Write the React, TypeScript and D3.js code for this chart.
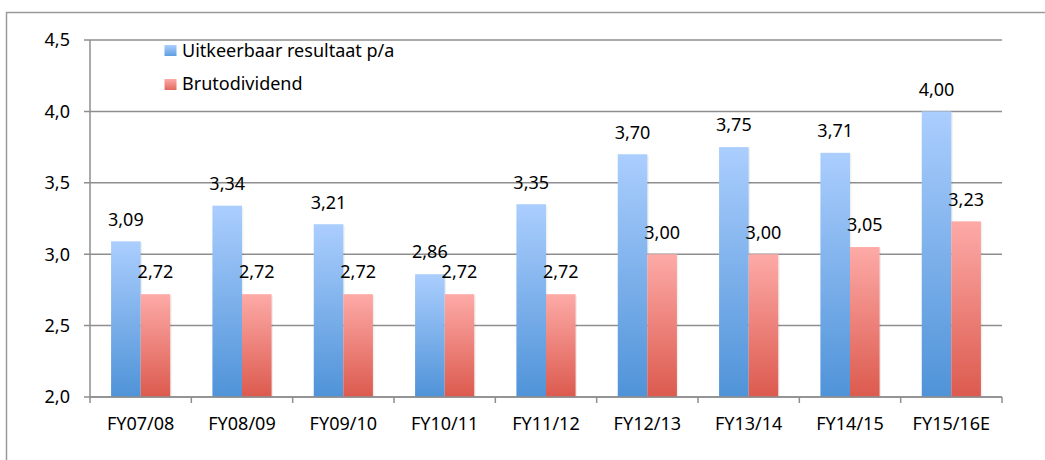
import React from 'react';
import * as d3 from 'd3';

const categories = ['FY07/08', 'FY08/09', 'FY09/10', 'FY10/11', 'FY11/12', 'FY12/13', 'FY13/14', 'FY14/15', 'FY15/16E'];
const uitkeerbaar = [3.09, 3.34, 3.21, 2.86, 3.35, 3.7, 3.75, 3.71, 4.0];
const brutodividend = [2.72, 2.72, 2.72, 2.72, 2.72, 3.0, 3.0, 3.05, 3.23];
const yTicks = [2.0, 2.5, 3.0, 3.5, 4.0, 4.5];
const seriesNames = ['Uitkeerbaar resultaat p/a', 'Brutodividend'];

const FONT = '"Noto Sans", sans-serif';
const FS = 18;
const GRID = '#8e8e8e';

export default function App() {
  const width = 1045;
  const height = 460;
  const margin = { top: 40, right: 43, bottom: 63, left: 90 };
  const innerW = width - margin.left - margin.right;
  const innerH = height - margin.top - margin.bottom;

  const x = d3.scaleBand<string>().domain(categories).range([0, innerW]).paddingInner(0).paddingOuter(0);
  const y = d3.scaleLinear().domain([2.0, 4.5]).range([innerH, 0]);

  const groupW = x.bandwidth() * 0.584;
  const barW = groupW / 2;
  const fmt = (v: number) => v.toFixed(2).replace('.', ',');
  const fmtTick = (v: number) => v.toFixed(1).replace('.', ',');

  const series = [
    { name: seriesNames[0], values: uitkeerbaar, fill: 'url(#gradBlue)' },
    { name: seriesNames[1], values: brutodividend, fill: 'url(#gradRed)' },
  ];

  return (
    <svg width={width} height={height} style={{ position: 'absolute', left: 0, top: 0, background: '#fff' }}>
      <defs>
        <linearGradient id="gradBlue" x1="0" y1="0" x2="0" y2="1">
          <stop offset="0%" stopColor="#abcefe" />
          <stop offset="100%" stopColor="#4f93d8" />
        </linearGradient>
        <linearGradient id="gradRed" x1="0" y1="0" x2="0" y2="1">
          <stop offset="0%" stopColor="#fdaaa7" />
          <stop offset="100%" stopColor="#dc5a4e" />
        </linearGradient>
        <linearGradient id="legBlue" x1="0" y1="0" x2="0" y2="1">
          <stop offset="0%" stopColor="#abcefe" />
          <stop offset="100%" stopColor="#5e9ee0" />
        </linearGradient>
        <linearGradient id="legRed" x1="0" y1="0" x2="0" y2="1">
          <stop offset="0%" stopColor="#fdaaa7" />
          <stop offset="100%" stopColor="#e06a60" />
        </linearGradient>
      </defs>

      {/* outer chart border */}
      <path d={`M6.5,${height + 2} V12.5 H${width + 2}`} fill="none" stroke="#9a9a9a" strokeWidth={1.5} />

      <g transform={`translate(${margin.left},${margin.top})`}>
        {/* gridlines and y ticks */}
        {yTicks.map(t => (
          <g key={t}>
            <line x1={-6} x2={innerW} y1={y(t)} y2={y(t)} stroke={GRID} strokeWidth={1.5} />
            <text x={-20} y={y(t)} dy="0.35em" textAnchor="end" fontFamily={FONT} fontSize={FS} fill="#000">
              {fmtTick(t)}
            </text>
          </g>
        ))}
        {/* y axis line */}
        <line x1={0} x2={0} y1={0} y2={innerH} stroke={GRID} strokeWidth={1.5} />

        {/* bars */}
        {series.map((s, si) =>
          s.values.map((v, i) => {
            const bx = x(categories[i])! + (x.bandwidth() - groupW) / 2 + si * barW;
            return (
              <g key={`${si}-${i}`}>
                <rect x={bx + 1.5} y={y(v) + 1.5} width={barW} height={innerH - y(v) - 1.5} fill="#000" opacity={0.06} />
                <rect x={bx} y={y(v)} width={barW} height={innerH - y(v)} fill={s.fill} />
                <text x={bx + barW / 2} y={y(v) - 22} dy="0.35em" textAnchor="middle" fontFamily={FONT} fontSize={FS} fill="#000">
                  {fmt(v)}
                </text>
              </g>
            );
          })
        )}

        {/* x axis */}
        <line x1={0} x2={innerW} y1={innerH} y2={innerH} stroke={GRID} strokeWidth={1.5} />
        {d3.range(categories.length + 1).map(i => {
          const tx = i < categories.length ? x(categories[i])! : innerW;
          return <line key={i} x1={tx} x2={tx} y1={innerH} y2={innerH + 6} stroke={GRID} strokeWidth={1.5} />;
        })}
        {categories.map(c => (
          <text key={c} x={x(c)! + x.bandwidth() / 2} y={innerH + 27} dy="0.35em" textAnchor="middle" fontFamily={FONT} fontSize={FS} fill="#000">
            {c}
          </text>
        ))}
      </g>

      {/* legend */}
      <g fontFamily={FONT} fontSize={FS} fill="#000">
        <rect x={164.5} y={45} width={12} height={11} fill="url(#legBlue)" />
        <text x={182} y={51} dy="0.35em">{seriesNames[0]}</text>
        <rect x={164.5} y={79} width={12} height={11} fill="url(#legRed)" />
        <text x={182} y={84} dy="0.35em">{seriesNames[1]}</text>
      </g>
    </svg>
  );
}
